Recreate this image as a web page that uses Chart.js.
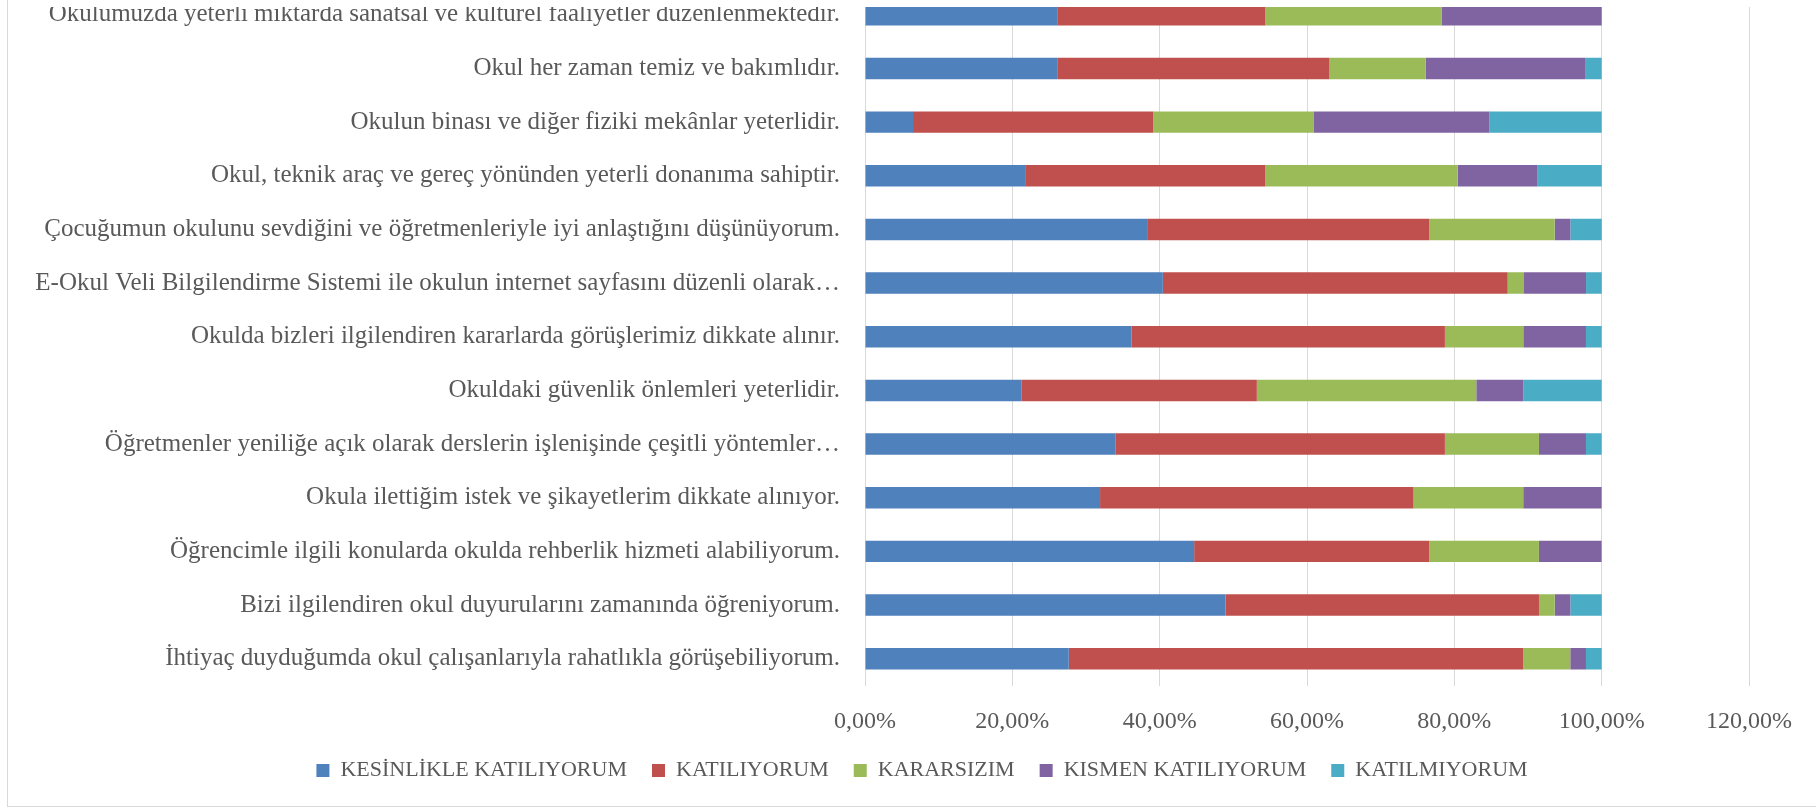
<!DOCTYPE html>
<html lang="tr">
<head>
  <meta charset="UTF-8">
  <title>Veli anketi</title>
  <script src="https://cdn.jsdelivr.net/npm/chart.js"></script>
  <style>
    html, body { margin: 0; padding: 0; background: #fff; overflow: hidden; width: 1816px; height: 807px; }
    #frame { position: absolute; left: 7px; top: -10px; width: 1840px; height: 817px; box-sizing: border-box; border: 1px solid #d9d9d9; }
    #clip { position: absolute; left: 8px; top: 7px; width: 1828px; height: 799px; overflow: hidden; }
    #box { position: absolute; left: 0; top: -59px; width: 1828px; height: 858px; }
  </style>
</head>
<body>
  <div id="frame"></div>
  <div id="clip"><div id="box"><canvas id="chart"></canvas></div></div>

  <script>
    // sorular (yukaridan asagiya)
    const sorular = [
      'Okulumuzda yeterli miktarda sanatsal ve kültürel faaliyetler düzenlenmektedir.',
      'Okul her zaman temiz ve bakımlıdır.',
      'Okulun binası ve diğer fiziki mekânlar yeterlidir.',
      'Okul, teknik araç ve gereç yönünden yeterli donanıma sahiptir.',
      'Çocuğumun okulunu sevdiğini ve öğretmenleriyle iyi anlaştığını düşünüyorum.',
      'E-Okul Veli Bilgilendirme Sistemi ile okulun internet sayfasını düzenli olarak…',
      'Okulda bizleri ilgilendiren kararlarda görüşlerimiz dikkate alınır.',
      'Okuldaki güvenlik önlemleri yeterlidir.',
      'Öğretmenler yeniliğe açık olarak derslerin işlenişinde çeşitli yöntemler…',
      'Okula ilettiğim istek ve şikayetlerim dikkate alınıyor.',
      'Öğrencimle ilgili konularda okulda rehberlik hizmeti alabiliyorum.',
      'Bizi ilgilendiren okul duyurularını zamanında öğreniyorum.',
      'İhtiyaç duyduğumda okul çalışanlarıyla rahatlıkla görüşebiliyorum.'
    ];

    // yuzdeler
    const kesinlikleKatiliyorum = [26.09, 26.09, 6.52, 21.74, 38.30, 40.43, 36.17, 21.28, 34.04, 31.91, 44.68, 48.94, 27.66];
    const katiliyorum           = [28.26, 36.96, 32.61, 32.61, 38.30, 46.81, 42.55, 31.91, 44.68, 42.55, 31.91, 42.55, 61.70];
    const kararsizim            = [23.91, 13.04, 21.74, 26.09, 17.02, 2.13, 10.64, 29.79, 12.77, 14.89, 14.89, 2.13, 6.38];
    const kismenKatiliyorum     = [21.74, 21.74, 23.91, 10.87, 2.13, 8.51, 8.51, 6.38, 6.38, 10.64, 8.51, 2.13, 2.13];
    const katilmiyorum          = [0, 2.17, 15.22, 8.70, 4.26, 2.13, 2.13, 10.64, 2.13, 0, 0, 4.26, 2.13];

    const seriAdlari = ['KESİNLİKLE KATILIYORUM', 'KATILIYORUM', 'KARARSIZIM', 'KISMEN KATILIYORUM', 'KATILMIYORUM'];
    const renkler = ['#4f81bd', '#c0504d', '#9bbb59', '#8064a2', '#4bacc6'];
    const seriler = [kesinlikleKatiliyorum, katiliyorum, kararsizim, kismenKatiliyorum, katilmiyorum];

    const aile = '"Liberation Serif", serif';
    const gri = '#595959';

    new Chart(document.getElementById('chart'), {
      type: 'bar',
      data: {
        labels: sorular,
        datasets: seriler.map((d, i) => ({
          label: seriAdlari[i],
          data: d,
          backgroundColor: renkler[i],
          borderWidth: 0,
          barPercentage: 0.4,
          categoryPercentage: 1
        }))
      },
      options: {
        indexAxis: 'y',
        responsive: true,
        maintainAspectRatio: false,
        animation: false,
        layout: { padding: { top: 0, right: 0, left: 0, bottom: 14.5 } },
        scales: {
          x: {
            stacked: true,
            min: 0,
            max: 120,
            ticks: {
              stepSize: 20,
              color: gri,
              font: { family: aile, size: 24 },
              padding: 21.5,
              callback: v => v.toFixed(2).replace('.', ',') + '%'
            },
            grid: { color: '#d9d9d9', lineWidth: 1, drawTicks: false },
            border: { display: false },
            afterFit: s => { s.height = 49; }
          },
          y: {
            stacked: true,
            ticks: { color: gri, font: { family: aile, size: 25 }, padding: 25, autoSkip: false },
            grid: { display: false, drawTicks: false },
            border: { display: false },
            afterFit: s => { s.width = 857; }
          },
          // sagdaki bos alan
          bosluk: {
            type: 'linear',
            position: 'right',
            display: true,
            ticks: { display: false },
            grid: { display: false, drawTicks: false },
            border: { display: false },
            afterFit: s => { s.width = 87; }
          }
        },
        plugins: {
          tooltip: { enabled: false },
          legend: {
            position: 'bottom',
            labels: {
              color: gri,
              font: { family: aile, size: 22 },
              boxWidth: 13,
              boxHeight: 13,
              padding: 25
            }
          }
        }
      }
    });
  </script>
</body>
</html>
